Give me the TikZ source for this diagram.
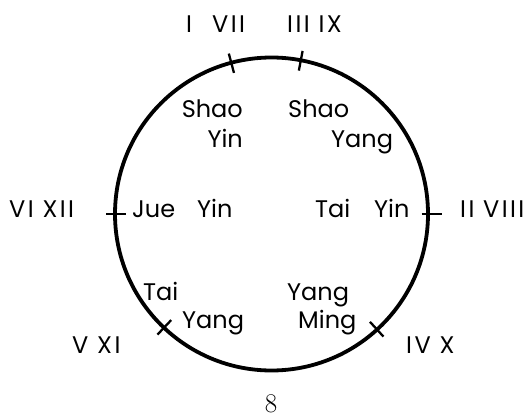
\documentclass[tikz,border=0pt]{standalone}
\usepackage{fontspec}
\newfontfamily\gothic{Poppins}
\newfontfamily\gothicnum{Poppins}[LetterSpace=10]
\begin{document}
\begin{tikzpicture}[x=1pt,y=1pt,
  lbl/.style={font=\gothic\fontsize{24}{24}\selectfont, inner sep=0pt, anchor=base west},
  lble/.style={lbl, anchor=base east},
  num/.style={font=\gothicnum\fontsize{24}{24}\selectfont, inner sep=0pt, anchor=base west},
  ring/.style={line width=3.8pt},
  tickmark/.style={line width=2.3pt}]
\useasboundingbox (0,0) rectangle (529,418);
\coordinate (c) at (271.5,204);
\draw[ring] (c) circle[radius=156.5];
\foreach \a in {104.9,79.2,226.6,312.4} {
  \draw[tickmark] ([shift={(\a:146)}]c) -- ([shift={(\a:166)}]c);
}
\draw[tickmark] ([shift={(180:146)}]c) -- ([shift={(180:166)}]c);
\draw[tickmark] ([shift={(0:150)}]c) -- ([shift={(0:170)}]c);
% outer labels
\node[num] (n1) at (186,385) {I};
\node[num] (n7) at (212,385) {VII};
\node[num] (n3) at (287,385) {III IX};
\node[num] (n6) at (9,201) {VI XII};
\node[num] (n2) at (460,201) {II VIII};
\node[num] (n5) at (72,65) {V XI};
\node[num] (n4) at (406,65) {IV X};
% inner labels
\node[lble] (shaoL) at (243,300) {Shao};
\node[lble] (yinL) at (243,270) {Yin};
\node[lbl] (shaoR) at (288,300) {Shao};
\node[lbl] (yangR) at (331,270) {Yang};
\node[lbl] (jue) at (132,201) {Jue};
\node[lbl] (yinJ) at (197,201) {Yin};
\node[lbl] (taiR) at (315,201) {Tai};
\node[lbl] (yinT) at (374,201) {Yin};
\node[lbl] (taiL) at (143,118) {Tai};
\node[lbl] (yangL) at (182,90) {Yang};
\node[lbl] (yangB) at (287,118) {Yang};
\node[lbl] (ming) at (298,90) {Ming};
\node[font=\fontsize{27}{27}\selectfont, inner sep=0pt, anchor=base] (pg) at (271,6) {8};
\end{tikzpicture}
\end{document}
